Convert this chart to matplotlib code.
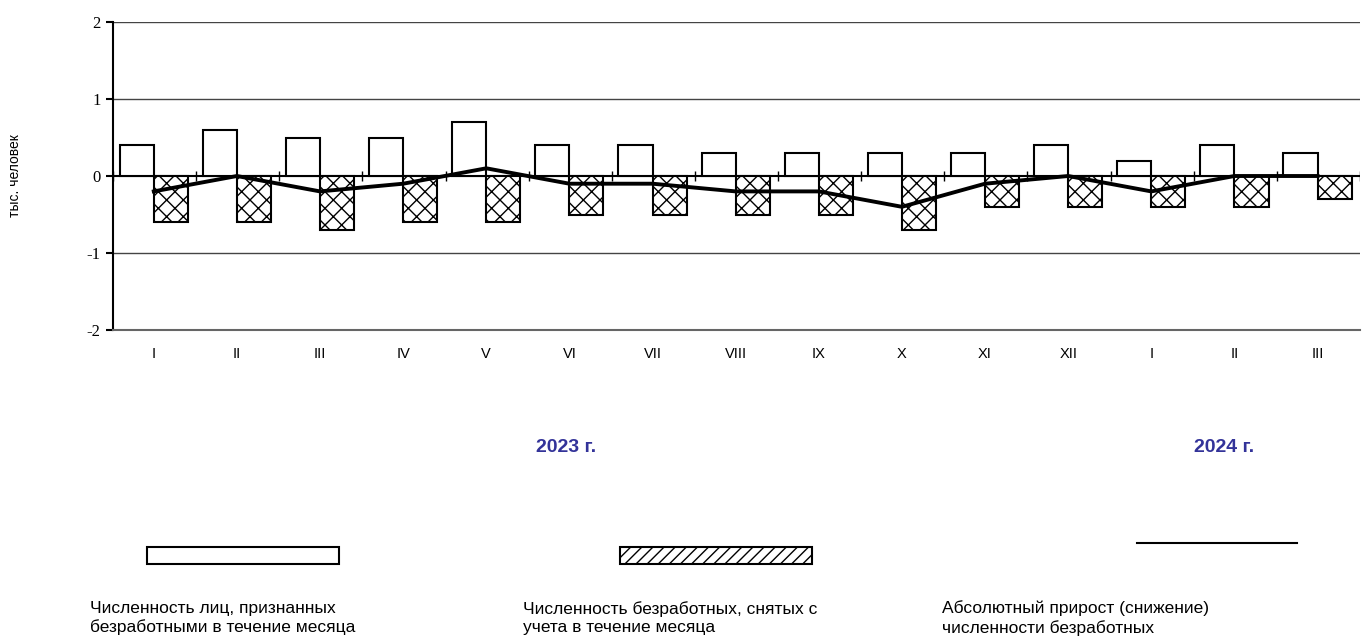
import matplotlib.pyplot as plt
from matplotlib.patches import Rectangle
from matplotlib.lines import Line2D
import numpy as np

# Месяцы
months = ['I', 'II', 'III', 'IV', 'V', 'VI', 'VII', 'VIII', 'IX', 'X', 'XI', 'XII',
          'I', 'II', 'III']
# Признаны безработными (тыс. человек)
registered = [0.4, 0.6, 0.5, 0.5, 0.7, 0.4, 0.4, 0.3, 0.3, 0.3, 0.3, 0.4, 0.2, 0.4, 0.3]
removed = [-0.6, -0.6, -0.7, -0.6, -0.6, -0.5, -0.5, -0.5, -0.5, -0.7, -0.4, -0.4, -0.4, -0.4, -0.3]
# Абсолютный прирост (снижение)
change = [-0.2, 0.0, -0.2, -0.1, 0.1, -0.1, -0.1, -0.2, -0.2, -0.4, -0.1, 0.0, -0.2, 0.0, 0.0]

plt.rcParams['font.family'] = ['Liberation Sans', 'DejaVu Sans']
plt.rcParams['hatch.linewidth'] = 1.0

fig = plt.figure(figsize=(13.62, 6.44), dpi=100)
ax = fig.add_axes([0.083, 0.4876, 0.9155, 0.4782])

x = np.arange(len(months))
w = 0.41

ax.bar(x - w / 2 - 0.01, registered, width=w, color='white', edgecolor='black', linewidth=1.5, zorder=3)
ax.bar(x + w / 2 - 0.01, removed, width=w, color='white', edgecolor='black', linewidth=1.5,
       hatch='xx', zorder=3)
ax.plot(x - 0.01, change, color='black', linewidth=2.8, zorder=4)

ax.set_xlim(-0.5, len(months) - 0.5)
ax.set_ylim(-2, 2)
ax.set_yticks([-2, -1, 0, 1, 2])
ax.set_yticklabels(['-2', '-1', '0', '1', '2'], family='Liberation Serif', fontsize=12)
ax.tick_params(axis='y', direction='out', length=5, width=1.5, pad=4)

ax.set_xticks(x - 0.01)
ax.set_xticklabels(months, fontsize=10.5)
ax.tick_params(axis='x', length=0, pad=12)

# сетка и оси
for yv in [1, 2, -1]:
    ax.axhline(yv, color='#444444', linewidth=1, zorder=1)
ax.axhline(0, color='black', linewidth=1.5, zorder=2)
ax.vlines(np.arange(len(months) + 1) - 0.5, -0.06, 0.06, color='black', linewidth=1, zorder=2)

for s in ['top', 'right']:
    ax.spines[s].set_visible(False)
ax.spines['left'].set_linewidth(1.5)
ax.spines['bottom'].set_color('#666666')
ax.spines['bottom'].set_linewidth(1.5)

fig.text(0.011, 0.727, 'тыс. человек', rotation=90, ha='center', va='center', fontsize=10)

# годы
fig.text(566 / 1362, 1 - 447 / 644, '2023 г.', ha='center', va='center', fontsize=14,
         fontweight='bold', color='#333399')
fig.text(1224 / 1362, 1 - 447 / 644, '2024 г.', ha='center', va='center', fontsize=14,
         fontweight='bold', color='#333399')

# легенда
W, H = 1362, 644
fig.add_artist(Rectangle((147 / W, 1 - 564 / H), 192 / W, 17 / H, transform=fig.transFigure,
                         facecolor='white', edgecolor='black', linewidth=1.5))
fig.add_artist(Rectangle((620 / W, 1 - 564 / H), 192 / W, 17 / H, transform=fig.transFigure,
                         facecolor='white', edgecolor='black', linewidth=1.5, hatch='///'))
fig.add_artist(Line2D([1137 / W, 1297 / W], [1 - 543 / H, 1 - 543 / H], transform=fig.transFigure,
                      color='black', linewidth=1.5))

fig.text(90 / W, 1 - 618 / H, 'Численность лиц, признанных\nбезработными в течение месяца',
         ha='left', va='center', fontsize=12.5, linespacing=1.3)
fig.text(523 / W, 1 - 618 / H, 'Численность безработных, снятых с\nучета в течение месяца',
         ha='left', va='center', fontsize=12.5, linespacing=1.3)
fig.text(942 / W, 1 - 618 / H, 'Абсолютный прирост (снижение)\nчисленности безработных',
         ha='left', va='center', fontsize=12.5, linespacing=1.3)

fig.savefig('out.png', dpi=100)
